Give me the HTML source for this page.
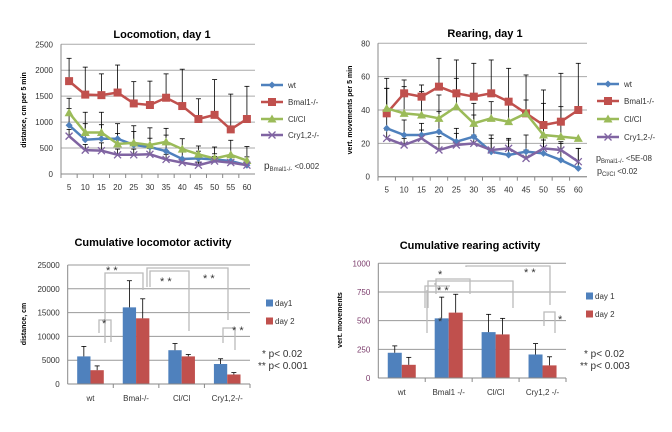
<!DOCTYPE html>
<html><head><meta charset="utf-8"><style>
body{margin:0;background:#fff;}
svg{display:block;font-family:"Liberation Sans",sans-serif;}
</style></head><body>
<svg id="s" width="672" height="432" viewBox="0 0 672 432" xmlns="http://www.w3.org/2000/svg"></svg>
<script>
const mins=[5,10,15,20,25,30,35,40,45,50,55,60];
const series=['wt','Bmal1-/-','Cl/Cl','Cry1,2-/-'];
const locWt=[940,660,680,680,560,520,440,290,300,280,250,170];
const locBmal=[1790,1530,1520,1570,1360,1330,1470,1310,1060,1140,860,1060];
const locCl=[1180,800,800,580,600,560,620,480,380,300,370,260];
const locCry=[730,460,450,370,370,380,280,220,170,250,220,170];
const locBmalErr=[440,530,410,530,420,460,460,710,390,680,680,630];
const locClErr=[280,390,390,390,330,330,260,200,160,220,280,270];
const locWtErr=[320,310,270,100,260,170,310,190,140,110,120,160];
const locCryErr=[130,110,150,110,110,110,100,80,60,90,100,60];
const locTicks=[0,500,1000,1500,2000,2500];
const rWt=[29,25,25,27,21,24,15,13,15,14,10,5];
const rBmal=[38,50,48,54,50,48,50,45,38,31,33,40];
const rCl=[41,38,37,35,42,32,35,33,38,25,24,23];
const rCry=[23,19,23,16,19,20,16,17,11,17,16,9];
const rBmalErr=[21,8,7,17,20,20,20,20,23,21,29,28];
const rClErr=[12,16,14,14,17,12,10,10,8,19,18,0];
const rWtErr=[24,9,7,12,8,13,10,10,10,8,10,12];
const rCryErr=[5,4,5,8,7,5,7,5,5,8,5,8];
const rTicks=[0,20,40,60,80];
const groupsL=['wt','Bmal-/-','Cl/Cl','Cry1,2-/-'];
const cumLoc1=[5800,16100,7100,4200];
const cumLoc2=[2900,13800,5800,2000];
const cumLoc1Err=[2100,5600,1400,1100];
const cumLoc2Err=[900,4100,400,400];
const cumLocTicks=[0,5000,10000,15000,20000,25000];
const groupsR=['wt','Bmal1 -/-','Cl/Cl','Cry1,2 -/-'];
const cumR1=[220,520,400,205];
const cumR2=[115,570,380,110];
const cumR1Err=[60,185,155,95];
const cumR2Err=[65,160,140,75];
const cumRTicks=[0,250,500,750,1000];

const S=document.getElementById('s');const NS='http://www.w3.org/2000/svg';
function el(t,a,name,p){const e=document.createElementNS(NS,t);for(const k in a)e.setAttribute(k,a[k]);


(p||S).appendChild(e);return e;}
function tx(x,y,s,str,name,extra){const e=el('text',Object.assign({x:x,y:y,'font-size':s},extra||{}),name);e.textContent=str;return e;}
const COL=['#4F81BD','#C0504D','#9BBB59','#8064A2'];

function lineChart(o){
 const ys=v=>o.y0-(v/o.max)*(o.y0-o.y1);
 const w=(o.x1-o.x0)/mins.length;const xs=i=>o.x0+w*(i+0.5);
 o.ticks.forEach(t=>{el('line',{x1:o.x0,x2:o.x1,y1:ys(t),y2:ys(t),stroke:'#aaa','stroke-width':1},'gridline');
  tx(o.x0-8,ys(t)+3,8,t,'y-tick-label',{'text-anchor':'end',fill:'#333'});});
 el('line',{x1:o.x0,x2:o.x0,y1:o.y1,y2:o.y0,stroke:'#888'},'y-axis');
 mins.forEach((m,i)=>{tx(xs(i),o.y0+16,8,m,'x-tick-label',{'text-anchor':'middle',fill:'#333'});
  el('line',{x1:o.x0+w*i,x2:o.x0+w*i,y1:o.y0,y2:o.y0+4,stroke:'#888'},'x-tick');});
 o.data.forEach((d,k)=>{
  d.forEach((v,i)=>{const e=o.err[k][i];if(e>0){el('line',{x1:xs(i),x2:xs(i),y1:ys(v),y2:ys(v+e),stroke:'#000','stroke-width':0.8},'error-bar');
   el('line',{x1:xs(i)-2.5,x2:xs(i)+2.5,y1:ys(v+e),y2:ys(v+e),stroke:'#000','stroke-width':0.8},'error-cap');}});
 });
 o.data.forEach((d,k)=>{
  el('polyline',{points:d.map((v,i)=>xs(i)+','+ys(v)).join(' '),fill:'none',stroke:COL[k],'stroke-width':2.5},'line-'+series[k]);
  d.forEach((v,i)=>marker(k,xs(i),ys(v)));
 });
 el('line',{x1:o.x0,x2:o.x1,y1:o.y0,y2:o.y0,stroke:'#888'},'x-axis');
 series.forEach((s,k)=>{const y=o.ly[k];el('line',{x1:o.lx,x2:o.lx+22,y1:y,y2:y,stroke:COL[k],'stroke-width':2.5},'legend-line');
  marker(k,o.lx+11,y);tx(o.lx+27,y+3,8,s,'legend-entry',{fill:'#333'});});
}
function marker(k,x,y){
 if(k==0)el('rect',{x:x-2.5,y:y-2.5,width:5,height:5,fill:COL[0],transform:`rotate(45 ${x} ${y})`},'marker');
 else if(k==1)el('rect',{x:x-4,y:y-4,width:8,height:8,fill:COL[1]},'marker');
 else if(k==2)el('polygon',{points:`${x},${y-4.5} ${x+4.5},${y+3.5} ${x-4.5},${y+3.5}`,fill:COL[2]},'marker');
 else{el('path',{d:`M${x-3.5},${y-3.5}L${x+3.5},${y+3.5}M${x-3.5},${y+3.5}L${x+3.5},${y-3.5}`,stroke:COL[3],'stroke-width':1.3},'marker');}
}
function barChart(o){
 const ys=v=>o.y0-(v/o.max)*(o.y0-o.y1);
 const w=(o.x1-o.x0)/o.groups.length;
 o.ticks.forEach(t=>{el('line',{x1:o.x0,x2:o.x1,y1:ys(t),y2:ys(t),stroke:'#999','stroke-width':1},'gridline');
  tx(o.x0-8,ys(t)+3,8,t,'y-tick-label',{'text-anchor':'end',fill:o.tc});});
 el('line',{x1:o.x0,x2:o.x0,y1:o.y1,y2:o.y0,stroke:'#888'},'y-axis');
 o.groups.forEach((g,i)=>{const c=o.x0+w*(i+0.5);
  tx(c,o.y0+17,8,g,'x-tick-label',{'text-anchor':'middle',fill:'#333'});
  [o.d1,o.d2].forEach((d,k)=>{const bx=c-o.bw+k*o.bw;const v=d[i];const e=[o.e1,o.e2][k][i];
   el('rect',{x:bx,y:ys(v),width:o.bw,height:ys(0)-ys(v),fill:COL[k]},'bar-'+g+'-day'+(k+1));
   el('line',{x1:bx+o.bw/2,x2:bx+o.bw/2,y1:ys(v),y2:ys(v+e),stroke:'#000','stroke-width':0.8},'error-bar');
   el('line',{x1:bx+o.bw/2-2.5,x2:bx+o.bw/2+2.5,y1:ys(v+e),y2:ys(v+e),stroke:'#000','stroke-width':0.8},'error-cap');});
  el('line',{x1:o.x0+w*(i+1),x2:o.x0+w*(i+1),y1:o.y0,y2:o.y0+4,stroke:'#888'},'x-tick');
 });
 el('line',{x1:o.x0,x2:o.x1,y1:o.y0,y2:o.y0,stroke:'#888'},'x-axis');
 ['day1','day 2'].forEach((s,k)=>{if(o.leg2&&k==0)s='day 1';el('rect',{x:o.lx,y:o.ly[k]-3.5,width:7,height:7,fill:COL[k]},'legend-swatch');
  tx(o.lx+9,o.ly[k]+3,8,s,'legend-entry',{fill:'#333'});});
}
function br(pts,name){el('polyline',{points:pts,fill:'none',stroke:'#bbb','stroke-width':1.3},name);}

// Panel 1
tx(162,38,11,'Locomotion, day 1','chart-title',{'text-anchor':'middle','font-weight':'bold'});
tx(0,0,7,'distance, cm per 5 min','y-axis-title',{'text-anchor':'middle','font-weight':'bold',transform:'translate(26,110) rotate(-90)'});
lineChart({x0:61,x1:255,y0:174,y1:44.3,max:2500,ticks:locTicks,data:[locWt,locBmal,locCl,locCry],err:[locWtErr,locBmalErr,locClErr,locCryErr],lx:261,ly:[85,102,119,135]});
const p1=tx(264,169,10,'p','p-value',{fill:'#333'});const a=document.createElementNS(NS,'tspan');a.setAttribute('font-size','6');a.setAttribute('dy','2');a.textContent='Bmal1-/-';p1.appendChild(a);const b=document.createElementNS(NS,'tspan');b.setAttribute('dy','-2');b.setAttribute('font-size','8');b.textContent=' <0.002';p1.appendChild(b);

// Panel 2
tx(485,37,11,'Rearing, day 1','chart-title',{'text-anchor':'middle','font-weight':'bold'});
tx(0,0,7,'vert. movements per 5 min','y-axis-title',{'text-anchor':'middle','font-weight':'bold',transform:'translate(352,110) rotate(-90)'});
lineChart({x0:378,x1:587,y0:176.7,y1:43.3,max:80,ticks:rTicks,data:[rWt,rBmal,rCl,rCry],err:[rWtErr,rBmalErr,rClErr,rCryErr],lx:597,ly:[84,101,119,137]});
function pv(x,y,sub,val){const t=tx(x,y,9,'p','p-value',{fill:'#333'});const s1=document.createElementNS(NS,'tspan');s1.setAttribute('font-size','6');s1.setAttribute('dy','2');s1.textContent=sub;t.appendChild(s1);const s2=document.createElementNS(NS,'tspan');s2.setAttribute('dy','-2');s2.setAttribute('font-size','8');s2.textContent=' '+val;t.appendChild(s2);}
pv(596,161,'Bmal1-/-','<5E-08');pv(597,174,'Cl/Cl','<0.02');

// Panel 3
tx(153,246,11,'Cumulative locomotor activity','chart-title',{'text-anchor':'middle','font-weight':'bold'});
tx(0,0,7,'distance, cm','y-axis-title',{'text-anchor':'middle','font-weight':'bold',transform:'translate(26,324) rotate(-90)'});
barChart({x0:67.7,x1:250,y0:384,y1:265,max:25000,ticks:cumLocTicks,groups:groupsL,d1:cumLoc1,d2:cumLoc2,e1:cumLoc1Err,e2:cumLoc2Err,bw:13.3,tc:'#333',lx:266,ly:[303,321]});
br('99,333 99,320 111,320 111,342','bracket');br('105,343 105,273 143,273 143,290','bracket');
br('147,287 147,268 228,268 228,320','bracket');br('150,287 150,271 189,271 189,331','bracket');
br('223,343 223,328 235,328 235,350','bracket');
[[102,327,'*'],[106,274,'* *'],[160,285,'* *'],[203,282,'* *'],[232,334,'* *']].forEach(s=>tx(s[0],s[1],11,s[2],'significance-mark',{fill:'#333'}));
tx(262,357,10,'* p< 0.02','p-value-legend',{fill:'#333'});tx(258,369,10,'** p< 0.001','p-value-legend',{fill:'#333'});

// Panel 4
tx(470,249,11,'Cumulative rearing activity','chart-title',{'text-anchor':'middle','font-weight':'bold'});
tx(0,0,7,'vert. movements','y-axis-title',{'text-anchor':'middle','font-weight':'bold',transform:'translate(342,320) rotate(-90)'});
barChart({x0:378.3,x1:566,y0:378,y1:263.3,max:1000,ticks:cumRTicks,groups:groupsR,d1:cumR1,d2:cumR2,e1:cumR1Err,e2:cumR2Err,bw:14,tc:'#7a3a6a',lx:586,ly:[296,314],leg2:true});
br('425,308 425,286 450,286','bracket');br('428,308 428,281 513,281 513,308','bracket');
br('435,283 435,285','bracket');br('436,294 436,279 470,279 470,294','bracket');
br('466,267 466,266 550,266 550,305','bracket');br('544,326 544,312 555,312 555,333','bracket');
br('427,333 427,290','bracket');
[[438,278,'*'],[437,294,'* *'],[438,325,'*'],[524,276,'* *'],[558,323,'*']].forEach(s=>tx(s[0],s[1],11,s[2],'significance-mark',{fill:'#333'}));
tx(584,357,10,'* p< 0.02','p-value-legend',{fill:'#333'});tx(580,369,10,'** p< 0.003','p-value-legend',{fill:'#333'});
</script>
</body></html>
